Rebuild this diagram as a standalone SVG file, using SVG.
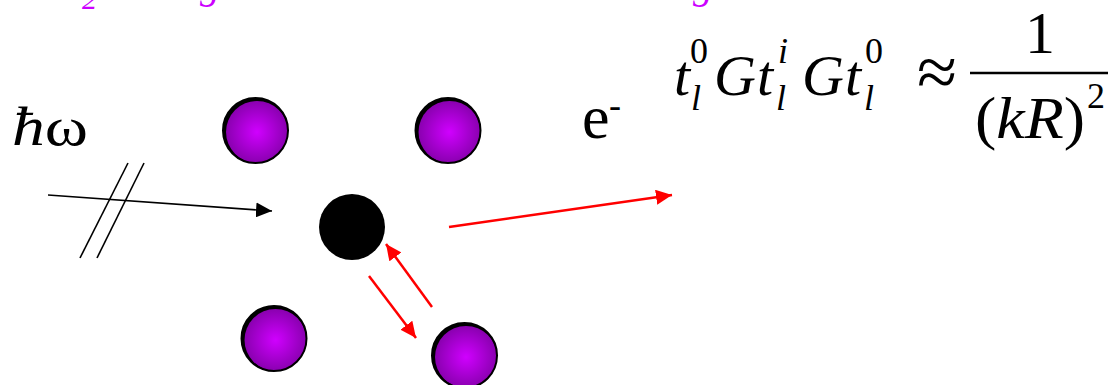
<svg xmlns="http://www.w3.org/2000/svg" width="1120" height="385" viewBox="0 0 1120 385">
<style>
text{font-family:'Liberation Serif','Times New Roman',serif;fill:#000}
.it{font-style:italic}
.pur{fill:#CC00FF}
.ball{fill:url(#pg)}
.rim{fill:none;stroke:#000;stroke-width:2}
.red{stroke:#FF0000;stroke-width:2.5;fill:none}
.blk{stroke:#000;stroke-width:1.6;fill:none}
</style>
<defs>
<radialGradient id="pg" cx="0.5" cy="0.5" r="0.5">
<stop offset="0" stop-color="#D000FF"/>
<stop offset="1" stop-color="#8A00B0"/>
</radialGradient>
<marker id="ar" markerUnits="userSpaceOnUse" markerWidth="16" markerHeight="15" refX="16" refY="7.5" orient="auto">
<path d="M0,0 L16,7.5 L0,15 z" fill="#FF0000"/>
</marker>
<marker id="ab" markerUnits="userSpaceOnUse" markerWidth="16" markerHeight="15" refX="16" refY="7.5" orient="auto">
<path d="M0,0 L16,7.5 L0,15 z" fill="#000"/>
</marker>
</defs>

<g id="top-text">
<text class="it pur" x="82" y="9" font-size="30">2</text>
<text class="it pur" x="200" y="-2" font-size="40">g</text>
<text class="it pur" x="693" y="-2" font-size="40">g</text>
</g>

<g id="photon">
<text x="12" y="145" font-size="54" textLength="76" lengthAdjust="spacingAndGlyphs"><tspan class="it">ħ</tspan>ω</text>
</g>

<g id="electron">
<text x="582" y="138" font-size="62">e<tspan x="609" y="117" font-size="36">-</tspan></text>
</g>

<g id="formula">
<text class="it" x="674" y="95" font-size="58">t</text>
<text x="690" y="63" font-size="36">0</text>
<text class="it" x="691" y="110" font-size="36">l</text>
<text class="it" x="714" y="95" font-size="58">G</text>
<text class="it" x="757" y="95" font-size="58">t</text>
<text class="it" x="778" y="63" font-size="36">i</text>
<text class="it" x="776" y="110" font-size="36">l</text>
<text class="it" x="802" y="95" font-size="58">G</text>
<text class="it" x="845" y="95" font-size="58">t</text>
<text x="865" y="63" font-size="36">0</text>
<text class="it" x="864" y="110" font-size="36">l</text>
<text x="917" y="96" font-size="72" textLength="40" lengthAdjust="spacingAndGlyphs">≈</text>
<text x="1040" y="53" font-size="60" text-anchor="middle">1</text>
<line x1="970" y1="73" x2="1108" y2="73" stroke="#000" stroke-width="2.5"/>
<text x="975" y="138" font-size="60" textLength="110" lengthAdjust="spacingAndGlyphs">(<tspan class="it">kR</tspan>)</text>
<text x="1087" y="108" font-size="36">2</text>
</g>

<g id="atom-tl">
<circle cx="255.5" cy="130.5" r="32.5" fill="#000"/>
<circle class="ball" cx="257" cy="132" r="31"/>
<circle class="rim" cx="255.5" cy="130.5" r="32.5"/>
</g>
<g id="atom-tr">
<circle cx="448" cy="130.5" r="32.5" fill="#000"/>
<circle class="ball" cx="449.5" cy="132" r="31"/>
<circle class="rim" cx="448" cy="130.5" r="32.5"/>
</g>
<g id="atom-bl">
<circle cx="274" cy="338.5" r="32.5" fill="#000"/>
<circle class="ball" cx="275.5" cy="340" r="31"/>
<circle class="rim" cx="274" cy="338.5" r="32.5"/>
</g>
<g id="atom-br">
<circle cx="464.5" cy="355.5" r="32.5" fill="#000"/>
<circle class="ball" cx="466" cy="357" r="31"/>
<circle class="rim" cx="464.5" cy="355.5" r="32.5"/>
</g>
<g id="absorber">
<circle cx="352" cy="227" r="33" fill="#000"/>
</g>

<g id="connectors">
<line class="blk" x1="48" y1="195" x2="272" y2="211" marker-end="url(#ab)"/>
<line class="blk" x1="80" y1="258" x2="128" y2="163"/>
<line class="blk" x1="97" y1="258" x2="144" y2="163"/>
<line class="red" x1="449" y1="227" x2="672" y2="195" marker-end="url(#ar)"/>
<line class="red" x1="432" y1="307" x2="386" y2="244" marker-end="url(#ar)"/>
<line class="red" x1="369" y1="276" x2="416" y2="338" marker-end="url(#ar)"/>
</g>
</svg>
